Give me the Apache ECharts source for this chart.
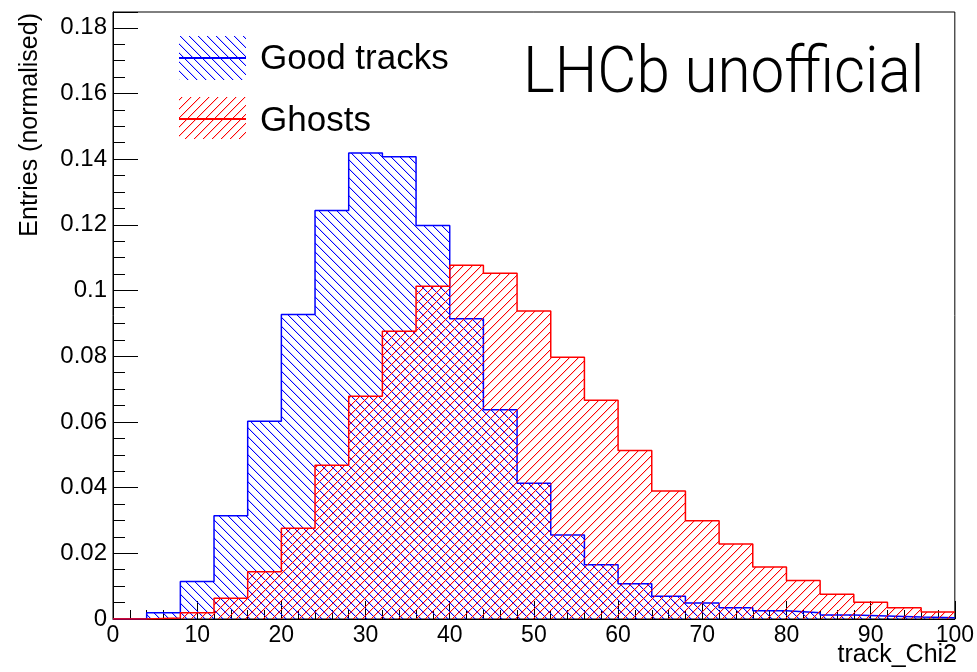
<!DOCTYPE html>
<html>
<head>
<meta charset="utf-8">
<script src="https://cdn.jsdelivr.net/npm/echarts@6/dist/echarts.min.js"></script>
<style>
  html, body { margin: 0; padding: 0; background: #fff; }
  #chart { width: 977px; height: 672px; }
</style>
</head>
<body>
<div id="chart"></div>
<script>
// Histogram bin edges (track_Chi2), 25 bins of width 4
const binEdges = [0, 4, 8, 12, 16, 20, 24, 28, 32, 36, 40, 44, 48, 52, 56, 60,
                  64, 68, 72, 76, 80, 84, 88, 92, 96, 100];

// Normalised bin contents
const goodTracks = [0, 0.0019, 0.0114, 0.0314, 0.0602, 0.0927, 0.1244, 0.1419,
                    0.1407, 0.1198, 0.0914, 0.0637, 0.0413, 0.0256, 0.0165, 0.0107,
                    0.0069, 0.0049, 0.0034, 0.0025, 0.0019, 0.0012, 0.0009, 0.0006, 0.0004];
const ghosts = [0, 0.0003, 0.0019, 0.0063, 0.0144, 0.0276, 0.0468, 0.0678,
                0.0876, 0.1013, 0.1077, 0.1053, 0.0938, 0.0797, 0.0666, 0.0513,
                0.0390, 0.0299, 0.0228, 0.0158, 0.0117, 0.0075, 0.0051, 0.0034, 0.0021];

const seriesNames = ['Good tracks', 'Ghosts'];
const xTitle = 'track_Chi2';
const yTitle = 'Entries (normalised)';
const stamp = 'LHCb unofficial';

const BLUE = '#0000ff';
const RED = '#ff0000';

// Small repeating tile with one diagonal hatch line
function hatchTile(color, dir) {
  const n = 9;
  const c = document.createElement('canvas');
  c.width = n; c.height = n;
  const ctx = c.getContext('2d');
  ctx.fillStyle = color;
  for (let i = 0; i < n; i++) {
    const y = dir === 'down' ? i : n - 1 - i;
    ctx.globalAlpha = 1;
    ctx.fillRect(i, y, 1, 1);
    ctx.globalAlpha = 0.2;
    ctx.fillRect((i + 1) % n, y, 1, 1);
  }
  return c;
}
const blueHatch = { image: hatchTile(BLUE, 'down'), repeat: 'repeat' };
const redHatch = { image: hatchTile(RED, 'up'), repeat: 'repeat' };

// Step outline: each bin's lower edge, plus the closing upper edge
function stepData(vals) {
  const d = vals.map((v, i) => [binEdges[i], v]);
  d.push([binEdges[vals.length], vals[vals.length - 1]]);
  return d;
}

const FONT = '"Liberation Sans", Arial, Helvetica, sans-serif';

const chart = echarts.init(document.getElementById('chart'), null, { renderer: 'canvas' });

chart.setOption({
  animation: false,
  backgroundColor: '#fff',
  grid: {
    left: 113, right: 21, top: 12, bottom: 53,
    show: true, borderColor: '#000', borderWidth: 1, backgroundColor: 'transparent'
  },
  xAxis: {
    type: 'value', min: 0, max: 100, interval: 10,
    axisLine: { show: true, onZero: false, lineStyle: { color: '#000', width: 1 } },
    axisTick: { show: true, inside: true, length: 18, lineStyle: { color: '#000', width: 1 } },
    minorTick: { show: true, splitNumber: 5, length: 9, lineStyle: { color: '#000', width: 1 } },
    axisLabel: { color: '#000', fontSize: 23, fontFamily: FONT, margin: 5 },
    splitLine: { show: false },
    minorSplitLine: { show: false }
  },
  yAxis: {
    type: 'value', min: 0, max: 0.1848, interval: 0.02,
    axisLine: { show: true, lineStyle: { color: '#000', width: 1 } },
    axisTick: { show: true, inside: true, length: 25, lineStyle: { color: '#000', width: 1 } },
    minorTick: { show: true, splitNumber: 4, length: 12, lineStyle: { color: '#000', width: 1 } },
    axisLabel: { color: '#000', fontSize: 24, fontFamily: FONT, margin: 6, showMaxLabel: false },
    splitLine: { show: false },
    minorSplitLine: { show: false }
  },
  series: [
    {
      name: seriesNames[0], type: 'line', step: 'end',
      data: stepData(goodTracks),
      symbol: 'none', showSymbol: false,
      lineStyle: { color: BLUE, width: 1.5 },
      areaStyle: { color: blueHatch, opacity: 1 },
      z: 2
    },
    {
      name: seriesNames[1], type: 'line', step: 'end',
      data: stepData(ghosts),
      symbol: 'none', showSymbol: false,
      lineStyle: { color: RED, width: 1.5 },
      areaStyle: { color: redHatch, opacity: 1 },
      z: 3
    }
  ],
  graphic: [
    // legend
    { type: 'rect', shape: { x: 179, y: 36, width: 67, height: 44 }, style: { fill: blueHatch }, z: 10 },
    { type: 'line', shape: { x1: 179, y1: 58, x2: 246, y2: 58 }, style: { stroke: BLUE, lineWidth: 2 }, z: 11 },
    { type: 'text', x: 260, y: 59, z: 11,
      style: { text: seriesNames[0], fill: '#000', fontSize: 35, fontFamily: FONT, align: 'left', verticalAlign: 'middle' } },
    { type: 'rect', shape: { x: 179, y: 97, width: 67, height: 42 }, style: { fill: redHatch }, z: 10 },
    { type: 'line', shape: { x1: 179, y1: 119, x2: 246, y2: 119 }, style: { stroke: RED, lineWidth: 2 }, z: 11 },
    { type: 'text', x: 260, y: 121, z: 11,
      style: { text: seriesNames[1], fill: '#000', fontSize: 35, fontFamily: FONT, align: 'left', verticalAlign: 'middle' } },
    // experiment stamp
    { type: 'text', x: 523, y: 76, scaleX: 0.94, z: 11,
      style: { text: stamp, fill: '#000', fontSize: 64, fontWeight: 300,
               fontFamily: 'Roboto, "Liberation Sans", sans-serif', align: 'left', verticalAlign: 'middle' } },
    // axis titles
    { type: 'text', x: 957, y: 655, z: 11,
      style: { text: xTitle, fill: '#000', fontSize: 25, fontFamily: FONT, align: 'right', verticalAlign: 'middle' } },
    { type: 'text', x: 30, y: 13, rotation: Math.PI / 2, z: 11,
      style: { text: yTitle, fill: '#000', fontSize: 25, fontFamily: FONT, align: 'right', verticalAlign: 'middle' } }
  ]
});
</script>
</body>
</html>
